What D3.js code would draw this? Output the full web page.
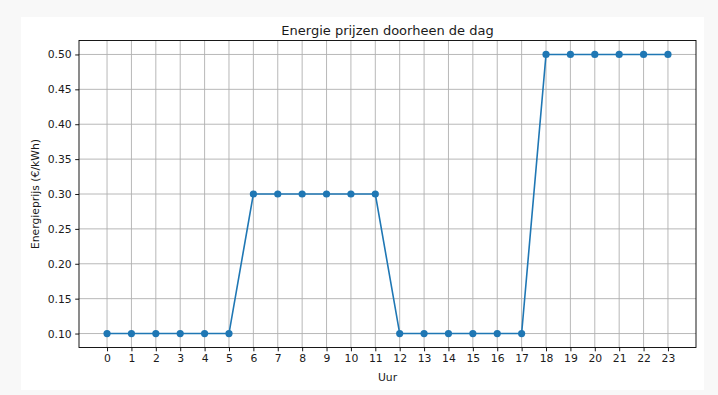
<!DOCTYPE html>
<html>
<head>
<meta charset="utf-8">
<script src="https://cdn.jsdelivr.net/npm/d3@7"></script>
<style>
  body { margin: 0; background: #f8f8f8; font-family: "DejaVu Sans", sans-serif; }
  svg text { fill: #1a1a1a; }
</style>
</head>
<body>
<svg id="chart" width="718" height="395"></svg>
<script>
// uren van de dag en prijs per uur
var hours = d3.range(0, 24);
var prices = [0.10, 0.10, 0.10, 0.10, 0.10, 0.10,
              0.30, 0.30, 0.30, 0.30, 0.30, 0.30,
              0.10, 0.10, 0.10, 0.10, 0.10, 0.10,
              0.50, 0.50, 0.50, 0.50, 0.50, 0.50];
var yTicks = [0.10, 0.15, 0.20, 0.25, 0.30, 0.35, 0.40, 0.45, 0.50];

var titleText = "Energie prijzen doorheen de dag";
var xLabel = "Uur";
var yLabel = "Energieprijs (€/kWh)";

var svg = d3.select("#chart");

// witte figuur
svg.append("rect")
  .attr("x", 21).attr("y", 17)
  .attr("width", 683).attr("height", 373)
  .attr("fill", "#ffffff");

var plotLeft = 79, plotRight = 696, plotTop = 40.5, plotBottom = 347.5;

var x = d3.scaleLinear().domain([-1.15, 24.15]).range([plotLeft, plotRight]);
var y = d3.scaleLinear().domain([0.08, 0.52]).range([plotBottom, plotTop]);

var g = svg.append("g");

// grid
g.selectAll(".vgrid")
  .data(hours)
  .enter()
  .append("line")
  .attr("x1", d => x(d)).attr("x2", d => x(d))
  .attr("y1", plotTop).attr("y2", plotBottom)
  .attr("stroke", "#b0b0b0")
  .attr("stroke-width", 0.9);

g.selectAll(".hgrid")
  .data(yTicks)
  .enter()
  .append("line")
  .attr("x1", plotLeft).attr("x2", plotRight)
  .attr("y1", d => y(d)).attr("y2", d => y(d))
  .attr("stroke", "#b0b0b0")
  .attr("stroke-width", 0.9);

// assen
var xAxis = d3.axisBottom(x)
  .tickValues(hours)
  .tickSize(3.8)
  .tickPadding(3.5)
  .tickFormat(d3.format("d"));

var yAxis = d3.axisLeft(y)
  .tickValues(yTicks)
  .tickSize(3.8)
  .tickPadding(3.5)
  .tickFormat(d3.format(".2f"));

var gx = g.append("g")
  .attr("transform", "translate(0," + plotBottom + ")")
  .call(xAxis);
var gy = g.append("g")
  .attr("transform", "translate(" + plotLeft + ",0)")
  .call(yAxis);

[gx, gy].forEach(a => {
  a.select(".domain").remove();
  a.selectAll(".tick line").attr("stroke", "#000").attr("stroke-width", 0.9);
  a.selectAll(".tick text")
    .style("font-family", "DejaVu Sans")
    .style("font-size", "10.8px")
    .attr("fill", "#1a1a1a");
});

// lijn en punten
var line = d3.line()
  .x((d, i) => x(hours[i]))
  .y(d => y(d));

g.append("path")
  .datum(prices)
  .attr("d", line)
  .attr("fill", "none")
  .attr("stroke", "#1f77b4")
  .attr("stroke-width", 1.6);

g.selectAll(".dot")
  .data(prices)
  .enter()
  .append("circle")
  .attr("cx", (d, i) => x(hours[i]))
  .attr("cy", d => y(d))
  .attr("r", 3.6)
  .attr("fill", "#1f77b4");

// kader
g.append("rect")
  .attr("x", plotLeft).attr("y", plotTop)
  .attr("width", plotRight - plotLeft).attr("height", plotBottom - plotTop)
  .attr("fill", "none")
  .attr("stroke", "#000")
  .attr("stroke-width", 0.9);

// teksten
svg.append("text")
  .attr("x", (plotLeft + plotRight) / 2)
  .attr("y", 34.5)
  .attr("text-anchor", "middle")
  .style("font-size", "13px")
  .text(titleText);

svg.append("text")
  .attr("x", (plotLeft + plotRight) / 2)
  .attr("y", 380.5)
  .attr("text-anchor", "middle")
  .style("font-size", "10.8px")
  .text(xLabel);

svg.append("text")
  .attr("transform", "translate(39," + (plotTop + plotBottom) / 2 + ") rotate(-90)")
  .attr("text-anchor", "middle")
  .style("font-size", "10.8px")
  .text(yLabel);
</script>
</body>
</html>
